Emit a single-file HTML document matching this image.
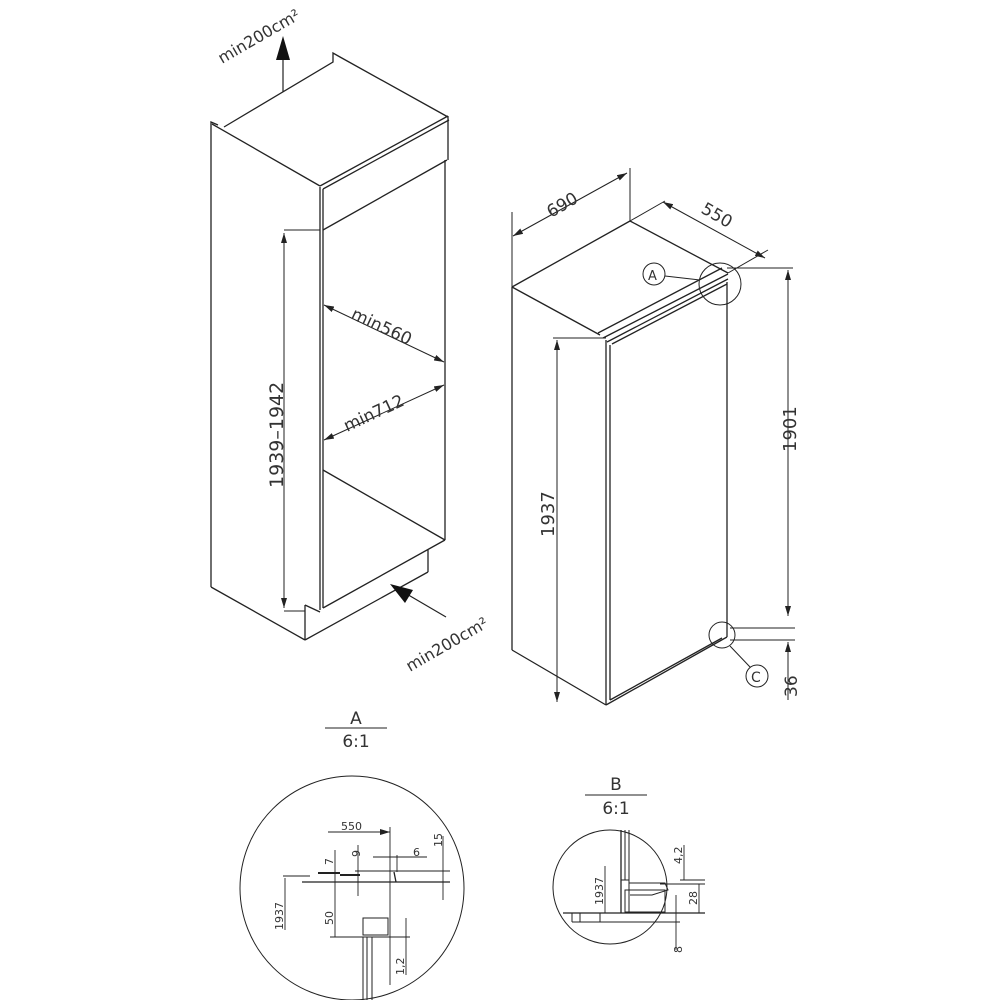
<!DOCTYPE html>
<html><head><meta charset="utf-8"><style>
html,body{margin:0;padding:0;background:#fff}
svg{display:block}
text{font-family:"DejaVu Sans","Liberation Sans",sans-serif;fill:#333}
</style></head><body>
<svg width="1000" height="1000" viewBox="0 0 1000 1000" xmlns="http://www.w3.org/2000/svg">
<defs>
<marker id="ar" markerWidth="10" markerHeight="6" refX="10" refY="3" orient="auto" markerUnits="userSpaceOnUse"><path d="M0,0 L10,3 L0,6 z" fill="#222"/></marker>
<marker id="as" markerWidth="10" markerHeight="6" refX="0" refY="3" orient="auto" markerUnits="userSpaceOnUse"><path d="M10,0 L0,3 L10,6 z" fill="#222"/></marker>
</defs>
<g stroke="#222" stroke-width="1.3" fill="none">
<polyline points="224,127 333,62 333,53 340,57 448,117"/>
<polyline points="211,125 211,122 218,125"/>
<line x1="212" y1="124" x2="320" y2="186"/>
<line x1="320" y1="186" x2="448" y2="116"/>
<line x1="323" y1="189" x2="449" y2="120"/>
<line x1="448" y1="116" x2="448" y2="160"/>
<line x1="323" y1="230" x2="447" y2="160"/>
<line x1="445" y1="160" x2="445" y2="540"/>
<line x1="211" y1="125" x2="211" y2="587"/>
<line x1="211" y1="587" x2="305" y2="640"/>
<line x1="320" y1="187" x2="320" y2="610"/>
<line x1="323" y1="189" x2="323" y2="608"/>
<line x1="323" y1="470" x2="445" y2="540"/>
<line x1="323" y1="608" x2="445" y2="540"/>
<line x1="305" y1="605" x2="305" y2="640"/>
<line x1="305" y1="640" x2="428" y2="572"/>
<line x1="428" y1="550" x2="428" y2="572"/>
<line x1="305" y1="605" x2="320" y2="612"/>
<line x1="284" y1="230" x2="320" y2="230" stroke-width="1"/>
<line x1="284" y1="611" x2="305" y2="611" stroke-width="1"/>
<line x1="284" y1="233" x2="284" y2="608" stroke-width="1" marker-start="url(#as)" marker-end="url(#ar)"/>
<line x1="324" y1="305" x2="444" y2="362" stroke-width="1" marker-start="url(#as)" marker-end="url(#ar)"/>
<line x1="324" y1="440" x2="444" y2="385" stroke-width="1" marker-start="url(#as)" marker-end="url(#ar)"/>
<line x1="283" y1="92" x2="283" y2="55" stroke-width="1.2"/>
<polygon points="283,36 276,60 290,60" fill="#111" stroke="none"/>
<line x1="446" y1="617" x2="405" y2="593" stroke-width="1.2"/>
<polygon points="390,584 413,590 405,603" fill="#111" stroke="none"/>

<line x1="512" y1="287" x2="630" y2="221"/>
<line x1="630" y1="221" x2="728" y2="273"/>
<line x1="512" y1="287" x2="600" y2="335"/>
<line x1="512" y1="287" x2="512" y2="650"/>
<line x1="512" y1="650" x2="606" y2="705"/>
<line x1="606" y1="340" x2="606" y2="705"/>
<line x1="610" y1="345" x2="610" y2="700"/>
<line x1="606" y1="705" x2="727" y2="637"/>
<line x1="610" y1="700" x2="722" y2="638"/>
<line x1="727" y1="282" x2="727" y2="637"/>
<line x1="598" y1="333" x2="722" y2="268"/>
<line x1="603" y1="338" x2="728" y2="274"/>
<line x1="607" y1="342" x2="728" y2="279"/>
<line x1="612" y1="344" x2="727" y2="284"/>
<line x1="512" y1="212" x2="512" y2="287" stroke-width="1"/>
<line x1="630" y1="168" x2="630" y2="221" stroke-width="1"/>
<line x1="513" y1="236" x2="627" y2="173" stroke-width="1" marker-start="url(#as)" marker-end="url(#ar)"/>
<line x1="630" y1="221" x2="665" y2="201" stroke-width="1"/>
<line x1="728" y1="273" x2="768" y2="250" stroke-width="1"/>
<line x1="663" y1="202" x2="765" y2="258" stroke-width="1" marker-start="url(#as)" marker-end="url(#ar)"/>
<circle cx="720" cy="284" r="21" stroke-width="1"/>
<circle cx="654" cy="274" r="11" stroke-width="1"/>
<line x1="665" y1="276" x2="700" y2="280" stroke-width="1"/>
<line x1="727" y1="268" x2="793" y2="268" stroke-width="1"/>
<line x1="788" y1="270" x2="788" y2="616" stroke-width="1" marker-start="url(#as)" marker-end="url(#ar)"/>
<line x1="730" y1="628" x2="795" y2="628" stroke-width="1"/>
<line x1="730" y1="640" x2="795" y2="640" stroke-width="1"/>
<line x1="788" y1="642" x2="788" y2="700" stroke-width="1" marker-start="url(#as)"/>
<circle cx="722" cy="635" r="13" stroke-width="1"/>
<circle cx="757" cy="676" r="11" stroke-width="1"/>
<line x1="730" y1="646" x2="750" y2="667" stroke-width="1"/>
<line x1="553" y1="338" x2="606" y2="338" stroke-width="1"/>
<line x1="557" y1="340" x2="557" y2="702" stroke-width="1" marker-start="url(#as)" marker-end="url(#ar)"/>

<line x1="325" y1="728" x2="387" y2="728" stroke-width="1"/>
<circle cx="352" cy="888" r="112" stroke-width="1"/>
<line x1="328" y1="832" x2="390" y2="832" stroke-width="0.9" marker-end="url(#ar)"/>
<line x1="390" y1="827" x2="390" y2="985" stroke-width="0.9"/>
<line x1="373" y1="857" x2="427" y2="857" stroke-width="0.9"/>
<line x1="397" y1="855" x2="397" y2="872" stroke-width="0.9"/>
<line x1="355" y1="871" x2="450" y2="871" stroke-width="0.9"/>
<line x1="302" y1="882" x2="450" y2="882" stroke-width="1.3"/>
<line x1="394" y1="872" x2="396" y2="882" stroke-width="1.3"/>
<line x1="283" y1="876" x2="310" y2="876" stroke-width="0.9"/>
<line x1="285" y1="878" x2="285" y2="930" stroke-width="0.9"/>
<line x1="335" y1="850" x2="335" y2="937" stroke-width="0.9"/>
<line x1="358" y1="845" x2="358" y2="896" stroke-width="0.9"/>
<line x1="443" y1="836" x2="443" y2="900" stroke-width="0.9"/>
<line x1="330" y1="937" x2="410" y2="937" stroke-width="1"/>
<rect x="363" y="918" width="25" height="17" stroke-width="1"/>
<line x1="363" y1="937" x2="363" y2="1000" stroke-width="1"/>
<line x1="367" y1="937" x2="367" y2="1000" stroke-width="1"/>
<line x1="372" y1="937" x2="372" y2="1000" stroke-width="1"/>
<line x1="406" y1="918" x2="406" y2="975" stroke-width="0.9"/>
<line x1="318" y1="873" x2="340" y2="873" stroke-width="2"/>
<line x1="340" y1="875" x2="360" y2="875" stroke-width="2"/>

<line x1="585" y1="795" x2="647" y2="795" stroke-width="1"/>
<circle cx="610" cy="887" r="57" stroke-width="1"/>
<line x1="621" y1="830" x2="621" y2="913"/>
<line x1="625" y1="830" x2="625" y2="880" stroke-width="1"/>
<line x1="629" y1="830" x2="629" y2="880" stroke-width="1"/>
<rect x="621" y="880" width="8" height="33" stroke-width="1"/>
<polyline points="629,883 665,883 668,890 652,895 630,895" stroke-width="1"/>
<rect x="625" y="890" width="40" height="22" stroke-width="1"/>
<line x1="563" y1="913" x2="705" y2="913"/>
<line x1="572" y1="922" x2="680" y2="922" stroke-width="1"/>
<line x1="572" y1="913" x2="572" y2="922" stroke-width="1"/>
<line x1="580" y1="913" x2="580" y2="922" stroke-width="1"/>
<line x1="600" y1="913" x2="600" y2="922" stroke-width="1"/>
<line x1="605" y1="866" x2="605" y2="913" stroke-width="0.9"/>
<line x1="660" y1="884" x2="705" y2="884" stroke-width="0.9"/>
<line x1="680" y1="880" x2="705" y2="880" stroke-width="0.9"/>
<line x1="684" y1="845" x2="684" y2="880" stroke-width="0.9"/>
<line x1="699" y1="884" x2="699" y2="913" stroke-width="0.9"/>
<line x1="676" y1="895" x2="676" y2="950" stroke-width="0.9"/>
</g>
<g font-size="15">
<text transform="translate(222,64) rotate(-30)" font-size="16">min200cm²</text>
<text transform="translate(283,488) rotate(-90)" font-size="19">1939–1942</text>
<text transform="translate(350,318) rotate(25)" font-size="17">min560</text>
<text transform="translate(347,432) rotate(-25)" font-size="17">min712</text>
<text transform="translate(410,672) rotate(-30)" font-size="16">min200cm²</text>
<text transform="translate(551,218) rotate(-30)" font-size="17">690</text>
<text transform="translate(700,212) rotate(30)" font-size="17">550</text>
<text x="648" y="280" font-size="13">A</text>
<text x="751" y="682" font-size="14">C</text>
<text transform="translate(796,452) rotate(-90)" font-size="18">1901</text>
<text transform="translate(797,697) rotate(-90)" font-size="17">36</text>
<text transform="translate(554,537) rotate(-90)" font-size="18">1937</text>
<text x="356" y="724" font-size="17" text-anchor="middle">A</text>
<text x="356" y="747" font-size="17" text-anchor="middle">6:1</text>
<text x="616" y="790" font-size="17" text-anchor="middle">B</text>
<text x="616" y="814" font-size="17" text-anchor="middle">6:1</text>
<g font-size="11">
<text x="341" y="830">550</text>
<text transform="translate(333,865) rotate(-90)">7</text>
<text transform="translate(360,857) rotate(-90)">9</text>
<text x="413" y="856">6</text>
<text transform="translate(442,847) rotate(-90)">15</text>
<text transform="translate(283,930) rotate(-90)">1937</text>
<text transform="translate(333,925) rotate(-90)">50</text>
<text transform="translate(404,975) rotate(-90)">1,2</text>
<text transform="translate(603,905) rotate(-90)">1937</text>
<text transform="translate(682,864) rotate(-90)">4,2</text>
<text transform="translate(697,905) rotate(-90)">28</text>
<text transform="translate(682,953) rotate(-90)">8</text>
</g>
</g>
</svg>
</body></html>
